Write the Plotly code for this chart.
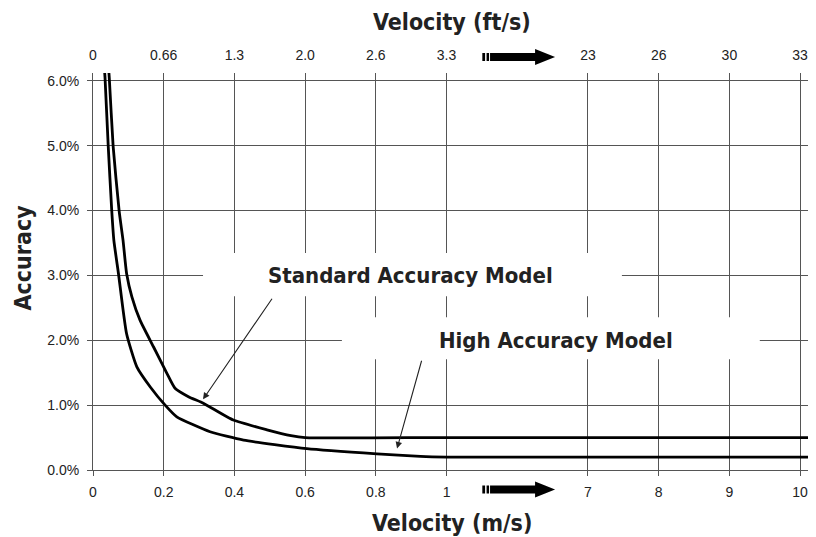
import plotly.graph_objects as go

# ---------------- data ----------------
# bottom axis (m/s) tick labels; positions 0..5 cover 0..1 m/s, 6 is the break, 7..10 are 7..10 m/s
ms_ticks = ["0", "0.2", "0.4", "0.6", "0.8", "1", "7", "8", "9", "10"]
ft_ticks = ["0", "0.66", "1.3", "2.0", "2.6", "3.3", "23", "26", "30", "33"]
tick_pos = [0, 1, 2, 3, 4, 5, 7, 8, 9, 10]
y_ticks = [0, 1, 2, 3, 4, 5, 6]
y_labels = ["0.0%", "1.0%", "2.0%", "3.0%", "4.0%", "5.0%", "6.0%"]

# Standard Accuracy Model: velocity (m/s), accuracy (%)
std_v = [0.044, 0.046, 0.057, 0.074, 0.085, 0.095, 0.110, 0.133, 0.171, 0.209,
         0.232, 0.270, 0.312, 0.397, 0.492, 0.560, 0.600, 1.0, 10.2]
std_a = [6.2, 6.05, 4.99, 3.99, 3.54, 3.03, 2.67, 2.31, 1.90, 1.49,
         1.26, 1.13, 1.03, 0.77, 0.62, 0.53, 0.50, 0.50, 0.50]

# High Accuracy Model
high_v = [0.032, 0.034, 0.043, 0.053, 0.059, 0.072, 0.095, 0.124, 0.162, 0.204,
          0.237, 0.331, 0.426, 0.605, 0.803, 0.926, 1.0, 10.2]
high_a = [6.2, 6.05, 5.0, 4.0, 3.54, 3.03, 2.10, 1.59, 1.28, 1.00,
          0.82, 0.59, 0.46, 0.33, 0.25, 0.21, 0.20, 0.20]


def to_axis(v):
    """Broken velocity axis: 0..1 m/s spans positions 0..5, 7..10 m/s map to 7..10."""
    return v * 5 if v <= 1 else v


GRID = "#555555"
TXT = "#222222"
NARROW = "Liberation Sans Narrow, DejaVu Sans Condensed, Arial Narrow, sans-serif"
REG = "Liberation Sans, Arial, sans-serif"

fig = go.Figure()
fig.add_trace(go.Scatter(x=[to_axis(v) for v in std_v], y=std_a, mode="lines",
                         line=dict(color="black", width=2.8, shape="spline", smoothing=0.5),
                         showlegend=False, hoverinfo="skip"))
fig.add_trace(go.Scatter(x=[to_axis(v) for v in high_v], y=high_a, mode="lines",
                         line=dict(color="black", width=2.8, shape="spline", smoothing=0.5),
                         showlegend=False, hoverinfo="skip"))
# invisible trace to enable top axis
fig.add_trace(go.Scatter(x=[0, 10], y=[0, 0], xaxis="x2", mode="lines",
                         line=dict(width=0), showlegend=False, hoverinfo="skip"))

X_RANGE = [0, 10.14]
Y_RANGE = [0, 6.12]

# page body has an 8px margin, so the figure is 8px smaller and margins shifted
fig.update_layout(
    width=808, height=529,
    margin=dict(l=85, r=6, t=65, b=67),
    paper_bgcolor="white", plot_bgcolor="white",
    xaxis=dict(range=X_RANGE, tickvals=tick_pos, ticktext=ms_ticks,
               showgrid=True, gridcolor=GRID, gridwidth=1,
               showline=True, linecolor=GRID, linewidth=1,
               ticks="outside", ticklen=5, tickcolor=GRID, ticklabelstandoff=4,
               tickfont=dict(family=REG, size=14, color=TXT),
               zeroline=False, automargin=False),
    xaxis2=dict(range=X_RANGE, tickvals=tick_pos, ticktext=ft_ticks,
                overlaying="x", side="top", showgrid=False,
                ticks="outside", ticklen=6, tickcolor="rgba(0,0,0,0)",
                tickfont=dict(family=REG, size=14, color=TXT),
                zeroline=False, showline=False, automargin=False),
    yaxis=dict(range=Y_RANGE, tickvals=y_ticks, ticktext=y_labels,
               showgrid=True, gridcolor=GRID, gridwidth=1,
               showline=True, linecolor=GRID, linewidth=1,
               ticks="outside", ticklen=5, tickcolor=GRID, ticklabelstandoff=5,
               tickfont=dict(family=REG, size=14, color=TXT),
               zeroline=False, automargin=False),
)


def arrow_path(yc):
    # break-marker arrow drawn in axis-x / paper-y coordinates
    h1 = 0.0101
    h2 = 0.0202
    parts = [
        f"M 5.506 {yc-h1} L 5.545 {yc-h1} L 5.545 {yc+h1} L 5.506 {yc+h1} Z",
        f"M 5.566 {yc-h1} L 5.601 {yc-h1} L 5.601 {yc+h1} L 5.566 {yc+h1} Z",
        f"M 5.615 {yc-h1} L 6.252 {yc-h1} L 6.252 {yc-h2} L 6.535 {yc} "
        f"L 6.252 {yc+h2} L 6.252 {yc+h1} L 5.615 {yc+h1} Z",
    ]
    return " ".join(parts)


shapes = []
for yc in (-0.049, 1.0404):
    shapes.append(dict(type="path", xref="x", yref="paper", path=arrow_path(yc),
                       fillcolor="black", line=dict(width=0), layer="above"))
# white label boxes hiding the grid
shapes.append(dict(type="rect", xref="x", yref="y", x0=1.556, x1=7.48, y0=2.68, y1=3.344,
                   fillcolor="white", line=dict(width=0), layer="above"))
shapes.append(dict(type="rect", xref="x", yref="y", x0=3.52, x1=9.43, y0=1.707, y1=2.355,
                   fillcolor="white", line=dict(width=0), layer="above"))
fig.update_layout(shapes=shapes)

ann = []
ann.append(dict(text="<b>Velocity (ft/s)</b>", xref="paper", yref="paper", x=0.5, y=1.0,
                xanchor="center", yanchor="middle", yshift=51, showarrow=False,
                font=dict(family=NARROW, size=23, color=TXT)))
ann.append(dict(text="<b>Velocity (m/s)</b>", xref="paper", yref="paper", x=0.5, y=0.0,
                xanchor="center", yanchor="middle", yshift=-53, showarrow=False,
                font=dict(family=NARROW, size=23, color=TXT)))
ann.append(dict(text="<b>Accuracy</b>", xref="paper", yref="paper", x=0.0, y=0.5,
                xanchor="center", yanchor="middle", xshift=-71, yshift=14, showarrow=False,
                textangle=-90, font=dict(family=NARROW, size=23, color=TXT)))
ann.append(dict(text="<b>Standard Accuracy Model</b>", xref="x", yref="y", x=4.49, y=3.0,
                showarrow=False, font=dict(family=NARROW, size=22, color=TXT)))
ann.append(dict(text="<b>High Accuracy Model</b>", xref="x", yref="y", x=6.55, y=2.0,
                showarrow=False, font=dict(family=NARROW, size=22, color=TXT)))
# pointer arrows
ann.append(dict(text="", x=1.556, y=1.089, ax=2.546, ay=2.664, xref="x", yref="y",
                axref="x", ayref="y", showarrow=True, arrowhead=2, arrowsize=1.2,
                arrowwidth=1.1, arrowcolor="#222222"))
ann.append(dict(text="", x=4.30, y=0.332, ax=4.653, ay=1.707, xref="x", yref="y",
                axref="x", ayref="y", showarrow=True, arrowhead=2, arrowsize=1.2,
                arrowwidth=1.1, arrowcolor="#222222"))
fig.update_layout(annotations=ann)

fig.write_html("out.html")
